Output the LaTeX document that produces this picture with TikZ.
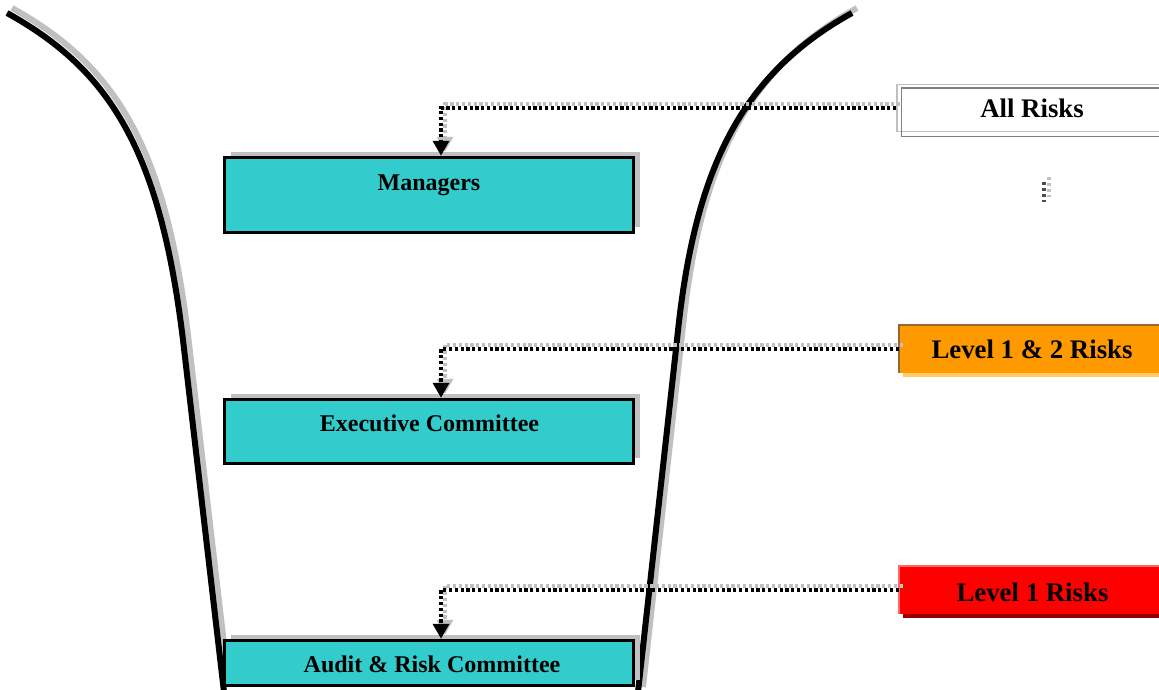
\documentclass[tikz,border=0pt]{standalone}
\usepackage{fontspec}
\setmainfont{Liberation Serif}
\usetikzlibrary{arrows.meta,calc,shadows}
\definecolor{boxteal}{HTML}{33CCCC}
\definecolor{shgray}{HTML}{C0C0C0}
\definecolor{orng}{HTML}{FF9900}
\definecolor{orngdark}{HTML}{996633}
\definecolor{ornglight}{HTML}{FFCC66}
\definecolor{redbox}{HTML}{FF0000}
\definecolor{redlight}{HTML}{FF6666}
\definecolor{reddark}{HTML}{990000}
\definecolor{allgray}{HTML}{808080}
\tikzset{
  tealbox/.style={draw=black, line width=3.5pt, fill=boxteal, inner sep=0pt,
    minimum width=409pt,
    general shadow={fill=shgray, shadow xshift=6pt, shadow yshift=6pt}},
  lbl/.style={anchor=base, inner sep=0pt, font=\fontsize{24}{28}\selectfont\bfseries},
  rlbl/.style={anchor=base, inner sep=0pt, font=\fontsize{26.8}{30}\selectfont\bfseries},
  riskbox/.style={inner sep=0pt, minimum width=272pt, minimum height=48pt},
  curveline/.style={draw=black, line width=6pt},
  curveshadow/.style={draw=shgray, line width=6pt, transform canvas={shift={(5pt,5pt)}}},
  connline/.style={draw=black, line width=3.5pt, dash pattern=on 3.2pt off 2.6pt,
    -{Triangle[length=15pt,width=16pt]}},
  connshadow/.style={draw=shgray, line width=3.5pt, dash pattern=on 3.2pt off 2.6pt,
    -{Triangle[length=15pt,width=16pt]}, transform canvas={shift={(4pt,4pt)}}},
  dotline/.style={draw=black!70, line width=3.5pt, dash pattern=on 3pt off 3pt},
  dotshadow/.style={draw=shgray, line width=3.5pt, dash pattern=on 3pt off 3pt,
    transform canvas={shift={(5pt,5pt)}}},
}
\begin{document}
\begin{tikzpicture}[x=1pt,y=-1pt]
\useasboundingbox (0,0) rectangle (1159,689);
\clip (0,0) rectangle (1159,689);
\fill[white] (0,0) rectangle (1159,689);

% funnel curves
\coordinate (l0) at (7,13);
\coordinate (l1) at (110,70);
\coordinate (l2) at (160,150);
\coordinate (l3) at (183,340);
\coordinate (l4) at (224,692);
\coordinate (r0) at (852,13);
\coordinate (r1) at (740,75);
\coordinate (r2) at (694,170);
\coordinate (r3) at (677,340);
\coordinate (r4) at (638,692);
\draw[curveshadow] (l0) .. controls (l1) and (l2) .. (l3) -- (l4);
\draw[curveshadow] (r0) .. controls (r1) and (r2) .. (r3) -- (r4);
\draw[curveline] (l0) .. controls (l1) and (l2) .. (l3) -- (l4);
\draw[curveline] (r0) .. controls (r1) and (r2) .. (r3) -- (r4);

% left boxes
\node[tealbox, minimum height=75pt] (mgr) at (429,195) {};
\node[lbl] (mgrt) at (429,190) {Managers};
\node[tealbox, minimum height=64pt] (exec) at (429,431.5) {};
\node[lbl] (exect) at (429.5,431) {Executive Committee};
\node[tealbox, minimum height=45pt] (arc) at (429,663) {};
\node[lbl] (arct) at (432,672) {Audit \& Risk Committee};

% right boxes
\node[riskbox, fill=white, draw=shgray, line width=1.5pt, minimum height=47pt] (allr) at (1033,108) {};
\draw[allgray, line width=1.5pt] ($(allr.north west)+(5,4)$) rectangle ($(allr.south east)+(5,4)$);
\node[rlbl] (allrt) at (1032,117) {All Risks};

\node[riskbox, fill=orng, general shadow={fill=ornglight, shadow xshift=4pt, shadow yshift=-4pt}] (l12) at (1035,349) {};
\draw[orngdark, line width=2pt] (l12.south west) -- (l12.north west) -- (l12.north east);
\node[rlbl] (l12t) at (1032,358) {Level 1 \& 2 Risks};

\node[riskbox, fill=redbox, general shadow={fill=reddark, shadow xshift=4pt, shadow yshift=-4pt}] (l1) at (1035,590) {};
\draw[redlight, line width=2pt] (l1.south west) -- (l1.north west) -- (l1.north east);
\node[rlbl] (l1t) at (1032.5,601) {Level 1 Risks};

% connectors
\draw[connshadow] (allr.west) -| ([xshift=12pt]mgr.north);
\draw[connshadow] (l12.west) -| ([xshift=12pt]exec.north);
\draw[connshadow] (l1.west) -| ([xshift=12pt]arc.north);
\draw[connline] (allr.west) -| ([xshift=12pt]mgr.north);
\draw[connline] (l12.west) -| ([xshift=12pt]exec.north);
\draw[connline] (l1.west) -| ([xshift=12pt]arc.north);

% small dotted mark
\coordinate (d0) at (1044,182);
\coordinate (d1) at (1044,202);
\draw[dotshadow] (d0) -- (d1);
\draw[dotline] (d0) -- (d1);
\end{tikzpicture}
\end{document}
